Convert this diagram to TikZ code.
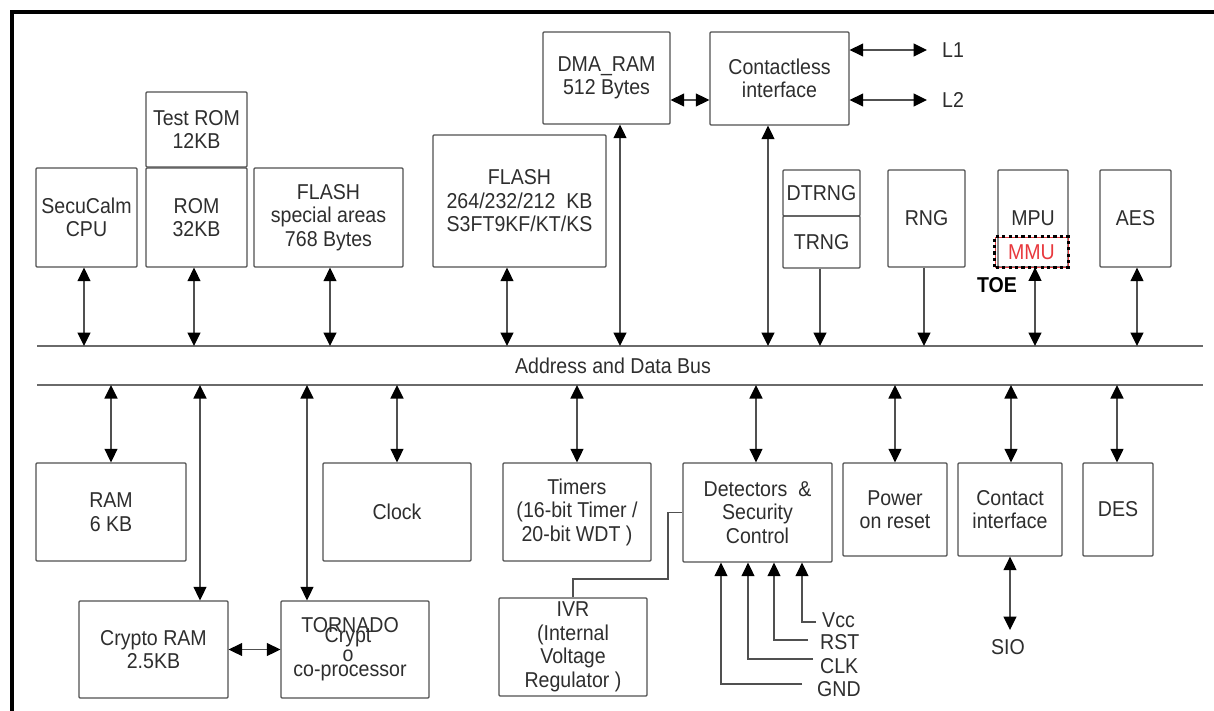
\documentclass[tikz,border=0pt]{standalone}
\usepackage{fontspec}
\setmainfont{Liberation Sans}[FakeStretch=0.91]
\usetikzlibrary{arrows.meta}
\definecolor{lncol}{HTML}{505050}
\definecolor{buscol}{HTML}{6A6A6A}
\definecolor{txcol}{HTML}{2E2E2E}
\definecolor{mmured}{HTML}{E8383D}
\begin{document}
\begin{tikzpicture}[x=1pt,y=-1pt,
  font=\fontsize{21.5}{23.5}\selectfont,
  >={Triangle[length=13.5pt,width=13pt,color=black]},
  box/.style={draw=lncol, line width=1.3pt, rounded corners=1pt, text=txcol, align=center, inner sep=0pt},
  wire/.style={draw=lncol, line width=1.3pt},
  busline/.style={draw=buscol, line width=1.8pt},
  lbl/.style={text=txcol, inner sep=0pt}]
\useasboundingbox (0,0) rectangle (1214,711);
\fill[white] (0,0) rectangle (1214,711);
% frame
\draw[black, line width=3.5pt] (12,712) -- (12,12) -- (1215,12);
% top row
\node[box, minimum width=101pt, minimum height=99pt] (cpu) at (86.5,217.5) {SecuCalm\\CPU};
\node[box, minimum width=101pt, minimum height=75pt] (trom) at (196.5,129.5) {Test ROM\\12KB};
\node[box, minimum width=101pt, minimum height=99pt] (rom) at (196.5,217.5) {ROM\\32KB};
\node[box, minimum width=149pt, minimum height=99pt] (fsp) at (328.5,217.5) {FLASH\\special areas\\768 Bytes};
\node[box, minimum width=173pt, minimum height=132pt] (flash) at (519.5,201) {FLASH\\264/232/212~~KB\\S3FT9KF/KT/KS};
\node[box, minimum width=127pt, minimum height=92pt] (dma) at (606.5,78) {DMA\_RAM\\512 Bytes};
\node[box, minimum width=139pt, minimum height=93pt] (cl) at (779.5,78.5) {Contactless\\interface};
\node[box, minimum width=77pt, minimum height=46pt] (dtrng) at (821.5,193) {DTRNG};
\node[box, minimum width=77pt, minimum height=52pt] (trng) at (821.5,242) {TRNG};
\node[box, minimum width=77pt, minimum height=97pt] (rng) at (926.5,218.5) {RNG};
\node[box, minimum width=70pt, minimum height=97pt] (mpu) at (1033,218.5) {MPU};
\node[draw=mmured, line width=0.8pt, minimum width=73pt, minimum height=30pt, inner sep=0pt, text=mmured] (mmu) at (1031.5,252) {MMU};
\draw[black, line width=2.8pt, dash pattern=on 3.2pt off 3.2pt] (mmu.south west) rectangle (mmu.north east);
\node[box, minimum width=71pt, minimum height=97pt] (aes) at (1135.5,218.5) {AES};
\node[lbl, text=black, font=\fontsize{21.5}{23.5}\selectfont\bfseries] (toe) at (997,285) {TOE};
% L1 / L2
\node[lbl, anchor=west] (l1) at (942,50) {L1};
\node[lbl, anchor=west] (l2) at (942,100) {L2};
\coordinate (l1a) at (927,50);
\coordinate (l2a) at (927,100);
\draw[wire,<->] (cl.east |- l1a) -- (l1a);
\draw[wire,<->] (cl.east |- l2a) -- (l2a);
\coordinate (dcy) at (0,100);
\draw[wire,<->] (dma.east |- dcy) -- (cl.west |- dcy);
% bus
\coordinate (bTL) at (37,346);
\coordinate (bTR) at (1203,346);
\coordinate (bBL) at (37,385);
\coordinate (bBR) at (1203,385);
\draw[busline] (bTL) -- (bTR);
\draw[busline] (bBL) -- (bBR);
\node[lbl] (buslbl) at (613,366) {Address and Data Bus};
% top connectors
\coordinate (t1) at (84,346);
\coordinate (t2) at (194,346);
\coordinate (t3) at (330,346);
\coordinate (t4) at (507,346);
\coordinate (t5) at (620,346);
\coordinate (t6) at (768,346);
\coordinate (t7) at (820,346);
\coordinate (t8) at (924,346);
\coordinate (t9) at (1035,346);
\coordinate (t10) at (1137,346);
\draw[wire,<->] (t1 |- cpu.south) -- (t1);
\draw[wire,<->] (t2 |- rom.south) -- (t2);
\draw[wire,<->] (t3 |- fsp.south) -- (t3);
\draw[wire,<->] (t4 |- flash.south) -- (t4);
\draw[wire,<->] (t5 |- dma.south) -- (t5);
\draw[wire,<->] (t6 |- cl.south) -- (t6);
\draw[wire,->] (t7 |- trng.south) -- (t7);
\draw[wire,->] (t8 |- rng.south) -- (t8);
\draw[wire,<->] (t9 |- mmu.south) -- (t9);
\draw[wire,<->] (t10 |- aes.south) -- (t10);
% bottom row
\node[box, minimum width=150pt, minimum height=98pt] (ram) at (111,512) {RAM\\6 KB};
\node[box, minimum width=148pt, minimum height=98pt] (clock) at (397,512) {Clock};
\node[box, minimum width=148pt, minimum height=98pt] (timers) at (577,512) {Timers\\(16-bit Timer /\\20-bit WDT )};
\node[box, minimum width=149pt, minimum height=99pt] (det) at (757.5,512.5) {Detectors~~\&\\Security\\Control};
\node[box, minimum width=104pt, minimum height=93pt] (power) at (895,509.5) {Power\\on reset};
\node[box, minimum width=104pt, minimum height=93pt] (contact) at (1010,509.5) {Contact\\interface};
\node[box, minimum width=70pt, minimum height=93pt] (des) at (1118,509.5) {DES};
\node[box, minimum width=149pt, minimum height=97pt] (cram) at (153.5,649.5) {Crypto RAM\\2.5KB};
\node[box, minimum width=148pt, minimum height=97pt] (torn) at (355,649.5) {};
\node[lbl] (tornA) at (350,625) {TORNADO};
\node[lbl] (tornB) at (348,637) {Crypt};
\node[lbl] (tornC) at (348,656) {o};
\node[lbl] (tornD) at (350,673) {co-processor};
\node[box, minimum width=148pt, minimum height=98pt] (ivr) at (573,647) {IVR\\(Internal\\Voltage\\Regulator )};
% bottom connectors
\coordinate (u1) at (111,385);
\coordinate (u2) at (200,385);
\coordinate (u3) at (307,385);
\coordinate (u4) at (397,385);
\coordinate (u5) at (577,385);
\coordinate (u6) at (756,385);
\coordinate (u7) at (895,385);
\coordinate (u8) at (1011,385);
\coordinate (u9) at (1117,385);
\draw[wire,<->] (u1) -- (u1 |- ram.north);
\draw[wire,<->] (u2) -- (u2 |- cram.north);
\draw[wire,<->] (u3) -- (u3 |- torn.north);
\draw[wire,<->] (u4) -- (u4 |- clock.north);
\draw[wire,<->] (u5) -- (u5 |- timers.north);
\draw[wire,<->] (u6) -- (u6 |- det.north);
\draw[wire,<->] (u7) -- (u7 |- power.north);
\draw[wire,<->] (u8) -- (u8 |- contact.north);
\draw[wire,<->] (u9) -- (u9 |- des.north);
\draw[wire,<->] (cram.east) -- (torn.west);
% IVR link
\coordinate (ivA) at (668,579);
\draw[wire] (ivr.north) |- (ivA) |- (det.west);
% detector inputs
\node[lbl, anchor=west] (vcc) at (822,620) {Vcc};
\node[lbl, anchor=west] (rst) at (820,642) {RST};
\node[lbl, anchor=west] (clk) at (820,666) {CLK};
\node[lbl, anchor=west] (gnd) at (817,689) {GND};
\draw[wire,->] ([yshift=-2pt,xshift=-6pt]vcc.west) -| ([xshift=44.5pt]det.south);
\draw[wire,->] ([yshift=2pt,xshift=-12pt]rst.west) -| ([xshift=16.5pt]det.south);
\draw[wire,->] ([yshift=7pt,xshift=-7pt]clk.west) -| ([xshift=-9.5pt]det.south);
\draw[wire,->] ([yshift=5pt,xshift=-15pt]gnd.west) -| ([xshift=-36.5pt]det.south);
% SIO
\node[lbl] (sio) at (1008,647) {SIO};
\coordinate (sioA) at (1010,630);
\draw[wire,<->] (contact.south) -- (sioA);
\end{tikzpicture}
\end{document}
